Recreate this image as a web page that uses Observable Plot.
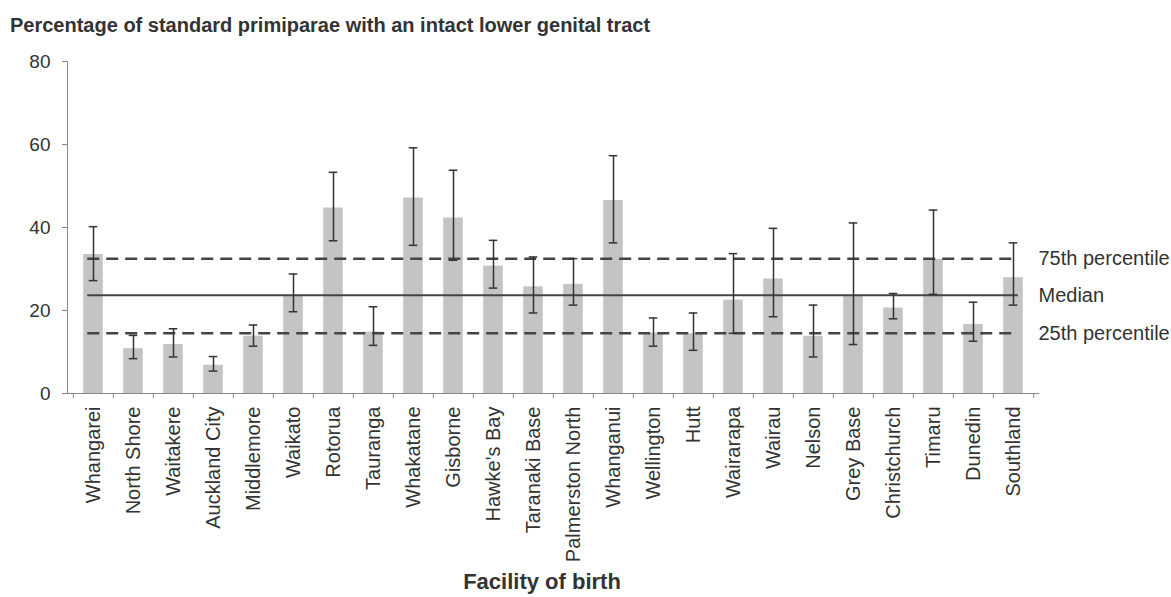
<!DOCTYPE html>
<html><head><meta charset="utf-8">
<script src="https://cdn.jsdelivr.net/npm/d3@7"></script>
<script src="https://cdn.jsdelivr.net/npm/@observablehq/plot@0.6"></script>
<style>
body{margin:0;background:#fff;font-family:"Liberation Sans",Arial,sans-serif;}
#wrap{position:relative;width:1171px;height:597px;overflow:hidden;}
#title{position:absolute;left:10px;top:15px;font-size:20px;font-weight:bold;color:#333;white-space:nowrap;line-height:1;}
#chart{position:absolute;left:0;top:40px;}
</style></head><body>
<div id="wrap"><div id="title">Percentage of standard primiparae with an intact lower genital tract</div><div id="chart"></div></div>
<script>
const facilities = ["Whangarei","North Shore","Waitakere","Auckland City","Middlemore","Waikato","Rotorua","Tauranga","Whakatane","Gisborne","Hawke's Bay","Taranaki Base","Palmerston North","Whanganui","Wellington","Hutt","Wairarapa","Wairau","Nelson","Grey Base","Christchurch","Timaru","Dunedin","Southland"];
const percent = [33.5,10.8,11.8,6.8,13.8,23.5,44.7,14.8,47.1,42.3,30.7,25.7,26.3,46.5,14.5,14.4,22.5,27.6,13.8,23.5,20.6,32.3,16.6,27.9];
const ciLow  = [27.2,8.4,8.8,5.4,11.4,19.7,36.8,11.6,35.7,32.1,25.4,19.4,21.3,36.3,11.4,10.4,14.5,18.5,8.8,11.8,18.0,23.9,12.6,21.3];
const ciHigh = [40.2,14.0,15.6,8.9,16.5,28.8,53.3,20.9,59.2,53.8,36.9,32.9,32.5,57.3,18.2,19.4,33.7,39.8,21.3,41.1,24.1,44.2,22.0,36.3];
const yTicks = [0,20,40,60,80];
const refLabels = ["75th percentile","Median","25th percentile"];
const refValues = [32.5,23.7,14.5];
const xTitle = "Facility of birth";

const data = facilities.map((f,i)=>({f, v:percent[i], lo:ciLow[i], hi:ciHigh[i]}));

const W=1171, H=557, mL=67, mR=133, mT=21, mB=204;
const step = (W-mL-mR)/facilities.length;
const barInset = (step-20)/2;
const capInset = (step-9)/2;
const grey="#888";

const chart = Plot.plot({
  width:W, height:H, marginLeft:mL, marginRight:mR, marginTop:mT, marginBottom:mB,
  style:{fontFamily:"'Liberation Sans', Arial, sans-serif", color:"#333", background:"#fff"},
  x:{domain:facilities, padding:0, axis:null, label:null},
  y:{domain:[0,80], axis:null, label:null},
  marks:[
    Plot.barY(data,{x:"f", y:"v", fill:"#c4c4c4", insetLeft:barInset, insetRight:barInset}),
    Plot.ruleY([refValues[1]],{stroke:"#444", strokeWidth:2, insetLeft:step/2, insetRight:step/2}),
    Plot.ruleY([refValues[0], refValues[2]],{stroke:"#444", strokeWidth:2.5, strokeDasharray:"12,7", insetLeft:step/2, insetRight:step/2}),
    Plot.ruleX(data,{x:"f", y1:"lo", y2:"hi", stroke:"#333", strokeWidth:1.5}),
    Plot.tickY(data,{x:"f", y:"hi", stroke:"#333", strokeWidth:1.5, insetLeft:capInset, insetRight:capInset}),
    Plot.tickY(data,{x:"f", y:"lo", stroke:"#333", strokeWidth:1.5, insetLeft:capInset, insetRight:capInset}),
    Plot.frame({anchor:"left", stroke:grey}),
    Plot.frame({anchor:"bottom", stroke:grey}),
    Plot.axisX({tickSize:5, tickFormat:()=>"", dx:-step/2, stroke:grey, label:null}),
    Plot.axisX([facilities[facilities.length-1]],{tickSize:5, tickFormat:()=>"", dx:step/2, stroke:grey, label:null}),
    Plot.axisX({tickSize:0, tickRotate:-90, tickPadding:13, fontSize:20, fill:"#333", label:null}),
    Plot.axisY({ticks:yTicks, tickSize:5, tickPadding:12, fontSize:19, stroke:grey, fill:"#333", label:null}),
    Plot.text(refLabels,{y:refValues, text:d=>d, frameAnchor:"right", textAnchor:"start", dx:0, fontSize:20, fill:"#333"}),
    Plot.text([xTitle],{text:d=>d, frameAnchor:"bottom", lineAnchor:"bottom", dy:195, dx:-11, fontSize:22, fontWeight:"bold", fill:"#333"})
  ]
});
document.getElementById("chart").appendChild(chart);
</script>
</body></html>
